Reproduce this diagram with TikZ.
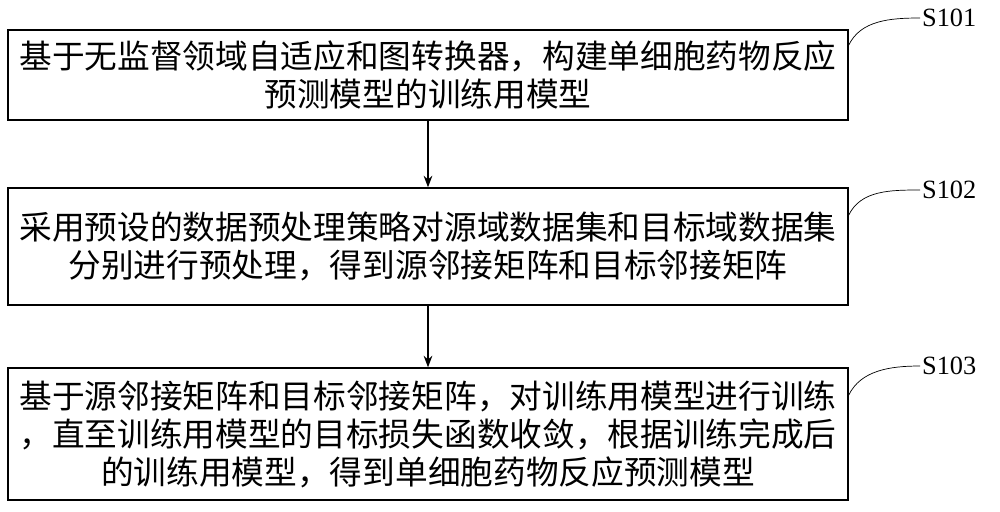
\documentclass[tikz,border=0pt]{standalone}
\usepackage{fontspec}
\setmainfont{Liberation Serif}
\newfontfamily\cjk{Noto Sans CJK SC}
\usetikzlibrary{positioning,calc,arrows.meta}
\tikzset{
	stepbox/.style={draw, thick, minimum width=16.8cm, align=center, inner sep=2pt,
		font=\cjk\fontsize{18.6}{21.6}\selectfont},
	steplabel/.style={font=\fontsize{15}{18}\selectfont, anchor=west, inner sep=1pt},
}

\begin{document}
\begin{tikzpicture}[x=0.02cm, y=-0.02cm]
	\useasboundingbox (0, 0) rectangle (1000, 511);
	\node[stepbox, minimum height=1.8cm] (train) at (428, 75) {基于无监督领域自适应和图转换器，构建单细胞药物反应\\预测模型的训练用模型};
	\node[stepbox, minimum height=2.34cm] (prep) at (428, 246.5) {采用预设的数据预处理策略对源域数据集和目标域数据集\\分别进行预处理，得到源邻接矩阵和目标邻接矩阵};
	\node[stepbox, minimum height=2.64cm] (pred) at (428, 434) {基于源邻接矩阵和目标邻接矩阵，对训练用模型进行训练\\，直至训练用模型的目标损失函数收敛，根据训练完成后\\的训练用模型，得到单细胞药物反应预测模型};

	\node[steplabel] (s1) at (920, 18) {S101};
	\node[steplabel] (s2) at (920, 190) {S102};
	\node[steplabel] (s3) at (920, 366) {S103};

	\draw [-{Stealth}, thick] (train) to (prep);
	\draw [-{Stealth}, thick] (prep) to (pred);

	% label leaders
	\draw (train.north east) ++(0, 16) .. controls +(12, -25) and +(-30, 0) .. (s1.west);
	\draw (prep.north east) ++(0, 28) .. controls +(12, -25) and +(-30, 0) .. (s2.west);
	\draw (pred.north east) ++(0, 28) .. controls +(12, -25) and +(-30, 0) .. (s3.west);
\end{tikzpicture}
\end{document}
